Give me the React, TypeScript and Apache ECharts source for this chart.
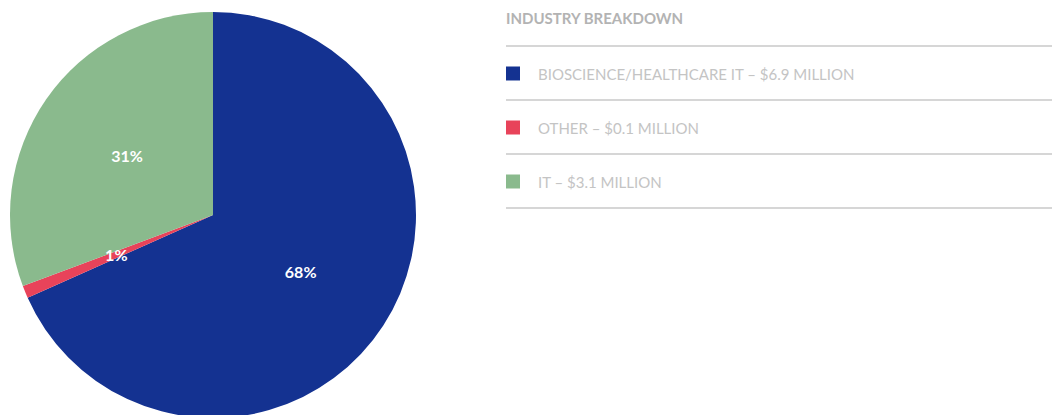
import React, { useEffect, useRef } from "react";
import * as echarts from "echarts";

const categories = ["BIOSCIENCE/HEALTHCARE IT", "OTHER", "IT"];
const values = [6.9, 0.1, 3.1];
const colors = ["#143291", "#e8435a", "#8aba8d"];
const titleText = "INDUSTRY BREAKDOWN";

export default function App() {
  const ref = useRef<HTMLDivElement>(null);
  useEffect(() => {
    document.body.style.margin = "0";
    const chart = echarts.init(ref.current!, null, { renderer: "svg" });
    const lineYs = [46, 100, 154, 208];
    chart.setOption({
      animation: false,
      title: {
        text: titleText,
        left: 501,
        top: 5,
        textStyle: { fontFamily: "Lato", fontSize: 15, fontWeight: "bold", color: "#b3b3b3" },
      },
      legend: {
        orient: "vertical",
        left: 501,
        top: 61,
        itemWidth: 14,
        itemHeight: 14,
        itemGap: 39,
        icon: "rect",
        selectedMode: false,
        data: categories,
        formatter: (name: string) => {
          const i = categories.indexOf(name);
          return `${name} – $${values[i]} MILLION`;
        },
        textStyle: { fontFamily: "Lato", fontSize: 15, color: "#c4c4c4", padding: [0, 0, 0, 13] },
      },
      graphic: lineYs.map((y) => ({
        type: "line",
        shape: { x1: 506, y1: y, x2: 1052, y2: y },
        style: { stroke: "#c8c8c8", lineWidth: 1.5 },
        silent: true,
      })),
      series: [
        {
          type: "pie",
          center: [213, 215],
          radius: 203,
          startAngle: 90,
          clockwise: true,
          percentPrecision: 0,
          silent: true,
          emphasis: { disabled: true },
          itemStyle: { borderWidth: 0 },
          label: {
            position: "inside",
            formatter: "{d}%",
            color: "#ffffff",
            fontFamily: "Lato",
            fontWeight: "bold",
            fontSize: 16,
          },
          labelLine: { show: false },
          data: categories.map((c, i) => ({ name: c, value: values[i], itemStyle: { color: colors[i] } })),
        },
      ],
    });
    return () => chart.dispose();
  }, []);
  return <div ref={ref} style={{ width: 1052, height: 415 }} />;
}
